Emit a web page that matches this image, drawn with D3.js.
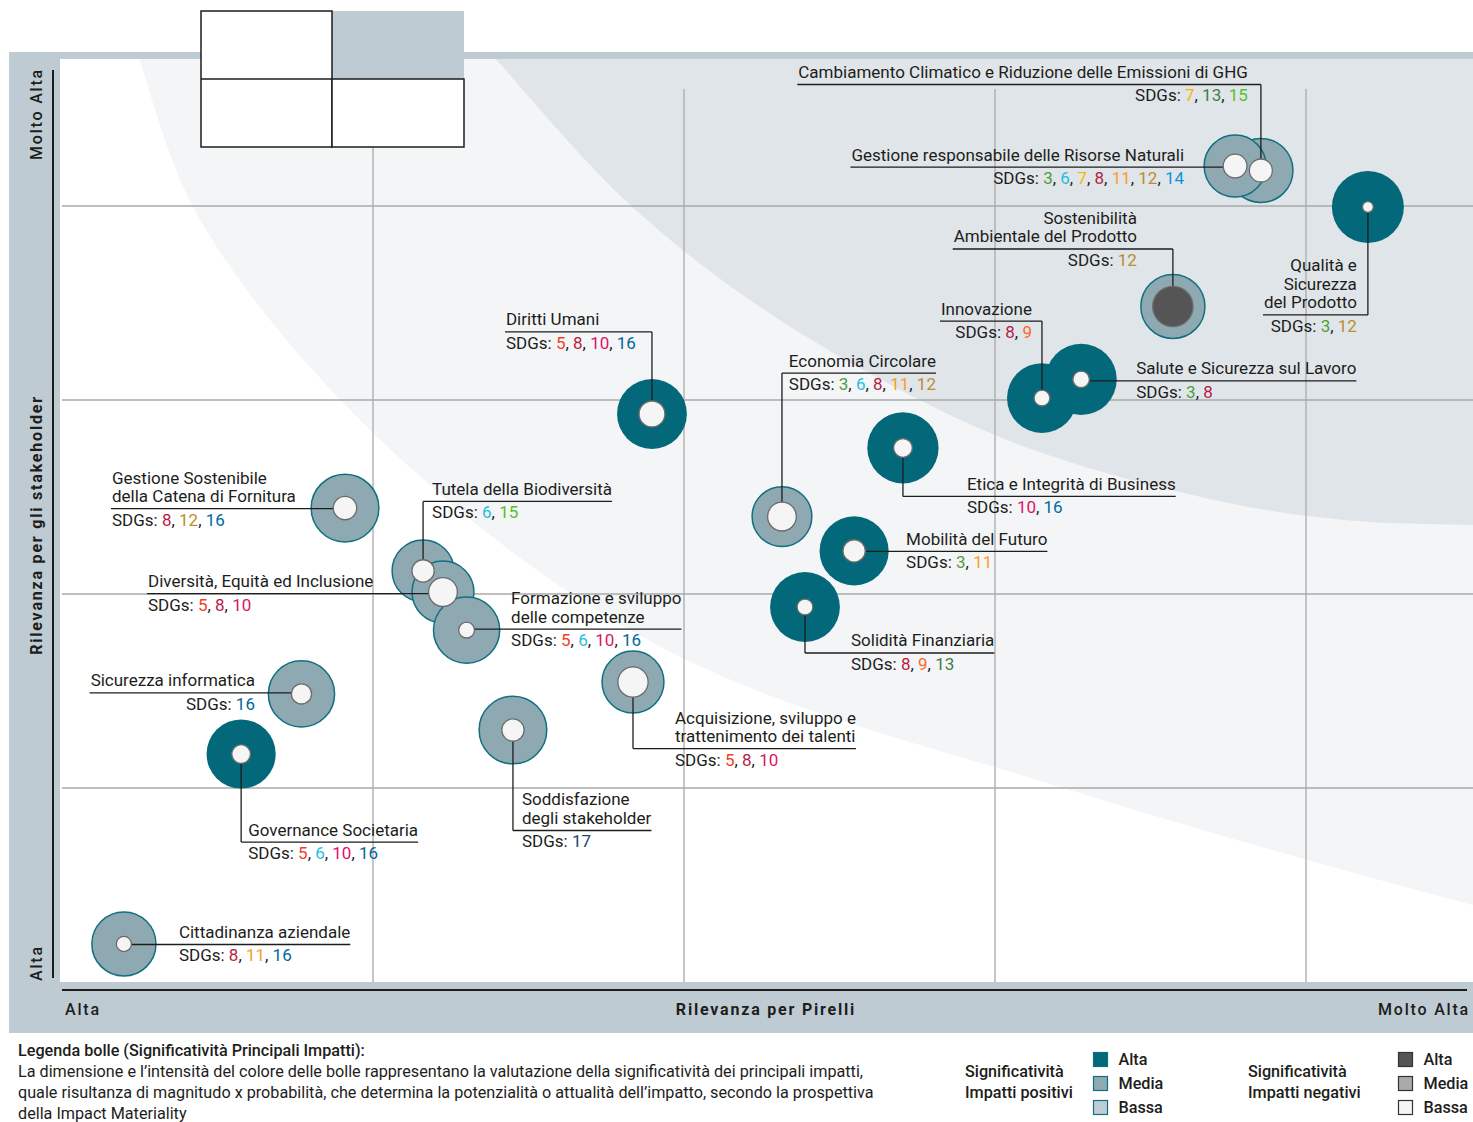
<!DOCTYPE html>
<html>
<head>
<meta charset="utf-8">
<script src="https://cdn.jsdelivr.net/npm/d3@7"></script>
<style>
  body { margin: 0; background: #fff; }
  svg { display: block; font-family: Roboto, "Liberation Sans", sans-serif; }
</style>
</head>
<body>
<div id="container"></div>
<script>
/* CONSTANTS AND GLOBALS */
const width = 1473;
const height = 1122;
const plot = { left: 60, right: 1473, top: 59, bottom: 982 };
const textColor = "#1d1d1b";
const fontSize = 17;
const lineGap = 18.5;

/* DATA */
const topicNames = [
  ["Cambiamento Climatico e Riduzione delle Emissioni di GHG"],
  ["Gestione responsabile delle Risorse Naturali"],
  ["Qualità e", "Sicurezza", "del Prodotto"],
  ["Sostenibilità", "Ambientale del Prodotto"],
  ["Innovazione"],
  ["Salute e Sicurezza sul Lavoro"],
  ["Diritti Umani"],
  ["Economia Circolare"],
  ["Etica e Integrità di Business"],
  ["Mobilità del Futuro"],
  ["Solidità Finanziaria"],
  ["Gestione Sostenibile", "della Catena di Fornitura"],
  ["Tutela della Biodiversità"],
  ["Diversità, Equità ed Inclusione"],
  ["Formazione e sviluppo", "delle competenze"],
  ["Acquisizione, sviluppo e", "trattenimento dei talenti"],
  ["Sicurezza informatica"],
  ["Governance Societaria"],
  ["Soddisfazione", "degli stakeholder"],
  ["Cittadinanza aziendale"]
];
// Rilevanza per Pirelli (x) and per gli stakeholder (y)
const pirelliScore =     [3.855, 3.772, 4.199, 3.572, 3.151, 3.277, 1.897, 2.315, 2.704, 2.547, 2.389, 0.910, 1.161, 1.225, 1.301, 1.836, 0.770, 0.576, 1.450, 0.199];
const stakeholderScore = [4.183, 4.206, 3.995, 3.482, 3.010, 3.106, 2.928, 2.399, 2.753, 2.222, 1.933, 2.443, 2.119, 2.010, 1.814, 1.546, 1.485, 1.175, 1.299, 0.196];
// significance of positive impacts (outer ring) and negative impacts (inner dot)
const outerSize = [8.9, 8.6, 10.0, 8.9, 9.7, 9.9, 9.7, 8.3, 9.9, 9.6, 9.7, 9.4, 8.6, 8.6, 9.2, 8.6, 9.2, 9.6, 9.4, 8.9];
const innerSize = [3.2, 3.3, 1.5, 5.6, 2.2, 2.3, 3.6, 4.0, 2.6, 3.1, 2.2, 3.25, 3.1, 4.0, 2.2, 4.2, 2.8, 2.6, 3.1, 2.1];
const positiveLevel = ["Media", "Media", "Alta", "Media", "Alta", "Alta", "Alta", "Media", "Alta", "Alta", "Alta", "Media", "Media", "Media", "Media", "Media", "Media", "Alta", "Media", "Media"];
const negativeLevel = ["Bassa", "Bassa", "Bassa", "Alta", "Bassa", "Bassa", "Bassa", "Bassa", "Bassa", "Bassa", "Bassa", "Bassa", "Bassa", "Bassa", "Bassa", "Bassa", "Bassa", "Bassa", "Bassa", "Bassa"];
const topicSdgs = [
  [7, 13, 15], [3, 6, 7, 8, 11, 12, 14], [3, 12], [12], [8, 9], [3, 8], [5, 8, 10, 16],
  [3, 6, 8, 11, 12], [10, 16], [3, 11], [8, 9, 13], [8, 12, 16], [6, 15], [5, 8, 10],
  [5, 6, 10, 16], [5, 8, 10], [16], [5, 6, 10, 16], [17], [8, 11, 16]
];

// background bands (edges read in chart units)
const darkEdgeX =  [1.341, 1.395, 1.810, 2.212, 2.695, 3.125, 3.704, 4.125, 4.537, 4.624];
const darkEdgeY =  [4.856, 4.758, 4.031, 3.515, 3.052, 2.742, 2.485, 2.381, 2.356, 2.359];
const lightEdgeX = [0.225, 0.244, 0.444, 1.058, 1.945, 3.241, 4.537, 4.624];
const lightEdgeY = [4.856, 4.778, 3.928, 2.742, 1.711, 0.990, 0.397, 0.366];

const gridTicks = [1, 2, 3, 4];
const levels = ["Alta", "Media", "Bassa"];
const positiveColors = ["#03687a", "#8fa9b3", "#c0ccd3"];
const negativeColors = ["#555555", "#aaaaaa", "#f5f5f5"];
const sdgColors = { 3: "#4c9f38", 5: "#ef402b", 6: "#26bde2", 7: "#f7b800", 8: "#b81c45", 9: "#fd6925",
  10: "#dd1367", 11: "#fd9d24", 12: "#bf8b2e", 13: "#3f7e44", 14: "#0a97d9", 15: "#56c02b", 16: "#00689d", 17: "#19486a" };

// label placement, pixel offsets from the bubble centre
const labelLayout = [
  { leader: "v", anchor: "end", dx: -13, dy: -86 },
  { leader: "h", anchor: "end", dx: -51, dy: 1 },
  { leader: "v", anchor: "end", dx: -11, dy: 108 },
  { leader: "v", anchor: "end", dx: -36, dy: -57.5 },
  { leader: "v", anchor: "end", dx: -10, dy: -77 },
  { leader: "h", anchor: "start", dx: 55, dy: 1.5 },
  { leader: "v", anchor: "start", dx: -146, dy: -82 },
  { leader: "v", anchor: "end", dx: 154, dy: -143.5 },
  { leader: "v", anchor: "start", dx: 64, dy: 48.5 },
  { leader: "h", anchor: "start", dx: 52, dy: 0.5 },
  { leader: "v", anchor: "start", dx: 46, dy: 46 },
  { leader: "h", anchor: "start", dx: -233, dy: 0.5 },
  { leader: "v", anchor: "start", dx: 9, dy: -69.5 },
  { leader: "h", anchor: "start", dx: -295, dy: 1.5 },
  { leader: "h", anchor: "start", dx: 44.5, dy: -1 },
  { leader: "v", anchor: "start", dx: 42, dy: 66.5 },
  { leader: "h", anchor: "end", dx: -46.5, dy: -1 },
  { leader: "v", anchor: "start", dx: 7, dy: 88 },
  { leader: "v", anchor: "start", dx: 9, dy: 100.5 },
  { leader: "h", anchor: "start", dx: 55, dy: 0.5 }
];

/* SCALES */
const xScale = d3.scaleLinear().domain([0, 4]).range([62, 1306]);
const yScale = d3.scaleLinear().domain([0, 4]).range([982, 206]);
const rScale = d3.scaleLinear().domain([0, 10]).range([0, 36]);
const posColor = d3.scaleOrdinal().domain(levels).range(positiveColors);
const negColor = d3.scaleOrdinal().domain(levels).range(negativeColors);

const bubbles = topicNames.map((lines, i) => ({
  lines, x: pirelliScore[i], y: stakeholderScore[i], outer: outerSize[i], inner: innerSize[i],
  pos: positiveLevel[i], neg: negativeLevel[i], sdgs: topicSdgs[i], layout: labelLayout[i]
}));

/* SVG ELEMENT */
const svg = d3.select("#container")
  .append("svg")
  .attr("width", width)
  .attr("height", height);

// frame
svg.append("rect").attr("x", 9).attr("y", 52).attr("width", width - 9).attr("height", 1033 - 52).attr("fill", "#bfcbd3");
svg.append("defs").append("clipPath").attr("id", "plotClip")
  .append("rect").attr("x", plot.left).attr("y", plot.top)
  .attr("width", plot.right - plot.left).attr("height", plot.bottom - plot.top);
svg.append("rect").attr("x", plot.left).attr("y", plot.top)
  .attr("width", plot.right - plot.left).attr("height", plot.bottom - plot.top).attr("fill", "#fff");

/* BACKGROUND BANDS */
const edge = d3.line().x(d => xScale(d[0])).y(d => yScale(d[1])).curve(d3.curveCatmullRom);
const bands = svg.append("g").attr("clip-path", "url(#plotClip)");
function bandPath(xs, ys) {
  const pts = xs.map((x, i) => [x, ys[i]]);
  return edge(pts) + `L${xScale(4.7)},${yScale(5)}L${xScale(xs[0])},${yScale(5)}Z`;
}
bands.append("path").attr("d", bandPath(lightEdgeX, lightEdgeY)).attr("fill", "#f3f5f7");
bands.append("path").attr("d", bandPath(darkEdgeX, darkEdgeY)).attr("fill", "#e0e5e9");

/* GRID */
const grid = svg.append("g").attr("stroke", "#a9a9a9").attr("stroke-width", 1.3);
grid.selectAll("line.v").data(gridTicks).join("line").attr("class", "v")
  .attr("x1", d => xScale(d)).attr("x2", d => xScale(d))
  .attr("y1", 89).attr("y2", plot.bottom);
grid.selectAll("line.h").data(gridTicks).join("line").attr("class", "h")
  .attr("x1", xScale(0)).attr("x2", plot.right)
  .attr("y1", d => yScale(d)).attr("y2", d => yScale(d));

/* QUADRANT KEY */
const key = svg.append("g");
key.append("rect").attr("x", 332).attr("y", 11).attr("width", 132).attr("height", 68).attr("fill", "#bfcbd3");
key.append("rect").attr("x", 201).attr("y", 11).attr("width", 131).attr("height", 136)
  .attr("fill", "#fff").attr("stroke", "#1d1d1b").attr("stroke-width", 1.5);
key.append("rect").attr("x", 332).attr("y", 79).attr("width", 132).attr("height", 68)
  .attr("fill", "#fff").attr("stroke", "#1d1d1b").attr("stroke-width", 1.5);
key.append("line").attr("x1", 201).attr("x2", 332).attr("y1", 79).attr("y2", 79)
  .attr("stroke", "#1d1d1b").attr("stroke-width", 1.5);

/* PLOT DATA */
const outerLayer = svg.append("g");
const lineLayer = svg.append("g").attr("stroke", "#1d1d1b").attr("stroke-width", 1.3).attr("fill", "none");
const innerLayer = svg.append("g");
const textLayer = svg.append("g").attr("font-size", fontSize).attr("fill", textColor);

outerLayer.selectAll("circle").data(bubbles).join("circle")
  .attr("cx", d => xScale(d.x)).attr("cy", d => yScale(d.y))
  .attr("r", d => rScale(d.outer))
  .attr("fill", d => posColor(d.pos))
  .attr("stroke", "#10707f")
  .attr("stroke-width", d => d.pos === "Alta" ? 0 : 1.5);

innerLayer.selectAll("circle").data(bubbles).join("circle")
  .attr("cx", d => xScale(d.x)).attr("cy", d => yScale(d.y))
  .attr("r", d => rScale(d.inner))
  .attr("fill", d => negColor(d.neg))
  .attr("stroke", "#6b6b6b")
  .attr("stroke-width", 1.3);

/* LABELS */
bubbles.forEach(b => {
  const L = b.layout;
  const cx = xScale(b.x), cy = yScale(b.y);
  const uy = cy + L.dy;
  const tx = cx + L.dx;
  const n = b.lines.length;

  const name = textLayer.append("text").attr("text-anchor", L.anchor);
  b.lines.forEach((ln, k) => {
    name.append("tspan").attr("x", tx).attr("y", uy - 6.5 - (n - 1 - k) * lineGap).text(ln);
  });
  const box = name.node().getBBox();

  let x1, x2;
  if (L.leader === "v") {
    x1 = Math.min(box.x - 1, cx);
    x2 = Math.max(box.x + box.width, cx);
    lineLayer.append("line").attr("x1", cx).attr("x2", cx).attr("y1", uy).attr("y2", cy);
  } else if (tx < cx) {
    x1 = box.x - 1; x2 = cx;
  } else {
    x1 = cx; x2 = box.x + box.width;
  }
  lineLayer.append("line").attr("x1", x1).attr("x2", x2).attr("y1", uy).attr("y2", uy);

  const sdg = textLayer.append("text").attr("text-anchor", L.anchor).attr("x", tx).attr("y", uy + 17);
  sdg.append("tspan").text("SDGs: ");
  b.sdgs.forEach((s, k) => {
    sdg.append("tspan").attr("fill", sdgColors[s]).text(s);
    if (k < b.sdgs.length - 1) sdg.append("tspan").text(", ");
  });
});

/* AXIS */
const axisFont = { size: 16, spacing: 1.8 };
svg.append("line").attr("x1", 53).attr("x2", 53).attr("y1", 70).attr("y2", 978)
  .attr("stroke", "#1d1d1b").attr("stroke-width", 2);
svg.append("line").attr("x1", 62).attr("x2", 1467).attr("y1", 990).attr("y2", 990)
  .attr("stroke", "#1d1d1b").attr("stroke-width", 2);

const axisText = (x, y, txt, anchor, weight, rotate) => svg.append("text")
  .attr("transform", rotate ? `translate(${x},${y}) rotate(-90)` : `translate(${x},${y})`)
  .attr("text-anchor", anchor)
  .attr("font-size", axisFont.size)
  .attr("font-weight", weight)
  .attr("letter-spacing", axisFont.spacing)
  .attr("fill", textColor)
  .text(txt);

axisText(65, 1015, "Alta", "start", 500, false);
axisText(766, 1015, "Rilevanza per Pirelli", "middle", 700, false);
axisText(1470, 1015, "Molto Alta", "end", 500, false);
axisText(42, 68, "Molto Alta", "end", 500, true);
axisText(42, 525, "Rilevanza per gli stakeholder", "middle", 700, true);
axisText(42, 981, "Alta", "start", 500, true);

/* LEGEND */
const legend = svg.append("g").attr("font-size", 16.2).attr("fill", textColor);
legend.append("text").attr("x", 18).attr("y", 1056).attr("font-weight", 500)
  .text("Legenda bolle (Significatività Principali Impatti):");
[
  "La dimensione e l’intensità del colore delle bolle rappresentano la valutazione della significatività dei principali impatti,",
  "quale risultanza di magnitudo x probabilità, che determina la potenzialità o attualità dell’impatto, secondo la prospettiva",
  "della Impact Materiality"
].forEach((t, k) => legend.append("text").attr("x", 18).attr("y", 1077 + k * 21).text(t));

function legendBlock(x0, sx, title, colors, strokeColor) {
  const g = legend.append("g").attr("font-weight", 500);
  g.append("text").attr("x", x0).attr("y", 1077).text("Significatività");
  g.append("text").attr("x", x0).attr("y", 1098).text(title);
  levels.forEach((lv, k) => {
    g.append("rect").attr("x", sx).attr("y", 1052.5 + k * 24).attr("width", 14).attr("height", 14)
      .attr("fill", colors[k]).attr("stroke", strokeColor).attr("stroke-width", 1.2);
    g.append("text").attr("x", sx + 25).attr("y", 1065 + k * 24).text(lv);
  });
}
legendBlock(965, 1093.5, "Impatti positivi", positiveColors, "#10707f");
legendBlock(1248, 1398.5, "Impatti negativi", negativeColors, "#333");
</script>
</body>
</html>
